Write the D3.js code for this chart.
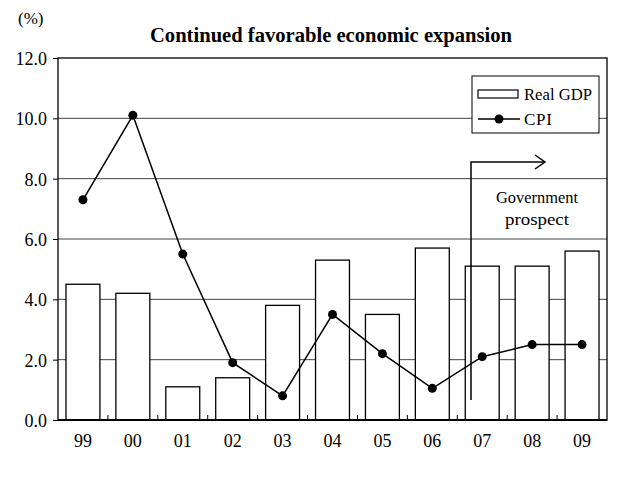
<!DOCTYPE html>
<html><head><meta charset="utf-8">
<script src="https://cdn.jsdelivr.net/npm/d3@7"></script>
<style>body{margin:0;background:#fff}svg{display:block;font-family:"Liberation Serif","Times New Roman",serif}</style>
</head><body><svg id="c" width="640" height="481"></svg>
<script>
const years = ["99","00","01","02","03","04","05","06","07","08","09"];
const gdp = [4.5,4.2,1.1,1.4,3.8,5.3,3.5,5.7,5.1,5.1,5.6];
const cpi = [7.3,10.1,5.5,1.9,0.8,3.5,2.2,1.05,2.1,2.5,2.5];
const yTicks = [0,2,4,6,8,10,12];
const title = "Continued favorable economic expansion";

const svg = d3.select("#c");
const L=58,R=607,T=58,B=420;
const x = d3.scaleBand().domain(years).range([L,R]).paddingInner(0.32).paddingOuter(0.16);
const xb = d3.scaleBand().domain(years).range([L,R]);
const y = d3.scaleLinear().domain([0,12]).range([B,T]);

// grid
svg.append("g").selectAll("line").data(yTicks.filter(d=>d>0&&d<12)).join("line")
  .attr("x1",L).attr("x2",R).attr("y1",d=>y(d)).attr("y2",d=>y(d))
  .attr("stroke","#444").attr("stroke-width",1);

// bars
svg.append("g").selectAll("rect").data(years).join("rect")
  .attr("x",d=>x(d)).attr("width",x.bandwidth())
  .attr("y",(d,i)=>y(gdp[i])).attr("height",(d,i)=>B-y(gdp[i]))
  .attr("fill","#fff").attr("stroke","#000").attr("stroke-width",1.3);

// plot border
svg.append("rect").attr("x",L).attr("y",T).attr("width",R-L).attr("height",B-T)
  .attr("fill","none").attr("stroke","#000").attr("stroke-width",1.3);

// y axis
const ya = svg.append("g").attr("transform",`translate(${L},0)`)
  .call(d3.axisLeft(y).tickValues(yTicks).tickFormat(d3.format(".1f")).tickSize(5).tickPadding(6));
ya.select(".domain").remove();
ya.selectAll("text").style("font-size","18px").style("font-family","'Liberation Serif',serif").attr("dy","0.36em");
ya.selectAll("line").attr("stroke","#000");

// x axis
svg.append("line").attr("x1",L).attr("x2",R).attr("y1",B).attr("y2",B).attr("stroke","#000").attr("stroke-width",2);
svg.append("g").selectAll("line").data(years.slice(1)).join("line")
  .attr("x1",d=>xb(d)).attr("x2",d=>xb(d)).attr("y1",B).attr("y2",B-5).attr("stroke","#000");
svg.append("g").selectAll("text").data(years).join("text")
  .attr("x",d=>xb(d)+xb.bandwidth()/2).attr("y",B+27).attr("text-anchor","middle")
  .style("font-size","18px").text(d=>d);

// CPI line
const line = d3.line().x((d,i)=>xb(years[i])+xb.bandwidth()/2).y(d=>y(d));
svg.append("path").datum(cpi).attr("d",line).attr("fill","none").attr("stroke","#000").attr("stroke-width",1.5);
svg.append("g").selectAll("circle").data(cpi).join("circle")
  .attr("cx",(d,i)=>xb(years[i])+xb.bandwidth()/2).attr("cy",d=>y(d)).attr("r",4.5).attr("fill","#000");

// annotation arrow
const ax = 471;
svg.append("path").attr("d",`M${ax},400 L${ax},162 L545,162`).attr("fill","none").attr("stroke","#000").attr("stroke-width",1.5);
svg.append("path").attr("d","M535,155 L545,162 L535,169").attr("fill","none").attr("stroke","#000").attr("stroke-width",1.5);
svg.append("text").attr("x",537).attr("y",203).attr("text-anchor","middle").style("font-size","17px")
  .attr("textLength",82).attr("lengthAdjust","spacingAndGlyphs").text("Government");
svg.append("text").attr("x",537).attr("y",225).attr("text-anchor","middle").style("font-size","17px")
  .attr("textLength",64).attr("lengthAdjust","spacingAndGlyphs").text("prospect");

// legend
svg.append("rect").attr("x",472).attr("y",76).attr("width",127).attr("height",57).attr("fill","#fff").attr("stroke","#000");
svg.append("rect").attr("x",478).attr("y",90).attr("width",40).attr("height",8).attr("fill","#fff").attr("stroke","#000").attr("stroke-width",1.2);
svg.append("text").attr("x",524).attr("y",100).style("font-size","17px").attr("textLength",68).attr("lengthAdjust","spacingAndGlyphs").text("Real GDP");
svg.append("line").attr("x1",478).attr("x2",520).attr("y1",119).attr("y2",119).attr("stroke","#000").attr("stroke-width",1.5);
svg.append("circle").attr("cx",499).attr("cy",119).attr("r",4.5).attr("fill","#000");
svg.append("text").attr("x",524).attr("y",125).style("font-size","17px").attr("textLength",28).attr("lengthAdjust","spacing").text("CPI");

// title
svg.append("text").attr("x",331).attr("y",42).attr("text-anchor","middle").style("font-size","20px").style("font-weight","bold")
  .attr("textLength",362).attr("lengthAdjust","spacingAndGlyphs").text(title);
svg.append("text").attr("x",18).attr("y",24).style("font-size","17px").text("(%)");
</script></body></html>
